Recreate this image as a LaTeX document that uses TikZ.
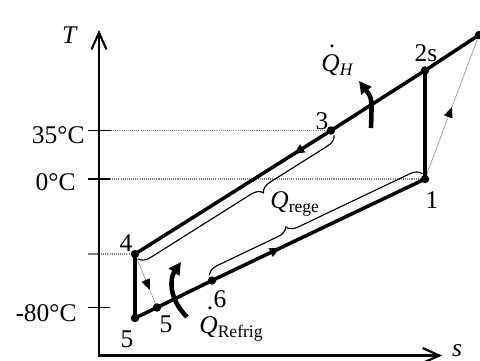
\documentclass[tikz,border=0pt]{standalone}
\usepackage{fontspec}
\setmainfont{Liberation Serif}
\usetikzlibrary{arrows.meta,decorations.pathreplacing,decorations.markings}
\newcommand{\dQ}{\makebox[0pt][l]{\hspace{0.3em}\raisebox{0.92em}{.}}\textit{Q}}
\newcommand{\lowsub}[1]{\raisebox{-0.18em}{\fontsize{10}{11}\selectfont #1}}
\begin{document}
\begin{tikzpicture}[x=0.02cm,y=0.02cm,
  lbl/.style={font=\fontsize{14.5}{16}\selectfont, inner sep=0pt, anchor=base},
  axisln/.style={line width=1.25pt},
  cyc/.style={line width=2pt, line join=round},
  tickln/.style={line width=0.75pt},
  dotln/.style={gray, line width=0.6pt, dash pattern=on 0.6pt off 0.6pt},
  thinln/.style={gray!80, line width=0.4pt},
  bracestyle/.style={decorate, line width=0.65pt},
  qarrow/.style={line width=2.6pt, -{Triangle[length=7pt,width=7pt]}},
  midarrow/.style={postaction={decorate}, decoration={markings, mark=at position #1 with {\arrow[black]{Triangle[length=6pt,width=5pt]}}}}
]
\useasboundingbox (0,0) rectangle (480,360);
% points
\coordinate (O) at (99,4.5);
\coordinate (Ttip) at (99,330);
\coordinate (stip) at (442,4.5);
\coordinate (p4) at (135,106);
\coordinate (p5) at (135,42);
\coordinate (p5b) at (157,52.5);
\coordinate (p6) at (212,79.5);
\coordinate (p1) at (425,181);
\coordinate (p2s) at (425,289.5);
\coordinate (p3) at (331,229.5);
\coordinate (p2) at (479,325);
% ticks
\coordinate (t35a) at (88,229.5); \coordinate (t35b) at (111,229.5);
\coordinate (t0a) at (88,181); \coordinate (t0b) at (110,181);
\coordinate (t4a) at (88,106); \coordinate (t4b) at (99,106);
\coordinate (t80a) at (88,52.5); \coordinate (t80b) at (110,52.5);
\draw[dotln] (t35b) -- (p3);
\draw[dotln] (t0b) -- (p1);
\draw[dotln] (t4b) -- (p4);
\draw[tickln] (t35a) -- (t35b);
\draw[tickln] (t0a) -- (t0b);
\draw[tickln, gray] (t4a) -- (t4b);
\draw[tickln] (t80a) -- (t80b);
% axes
\draw[axisln, line join=miter, {Straight Barb[length=9.5pt,width=8.5pt]}-{Straight Barb[length=9.5pt,width=8.5pt]}] (Ttip) -- (O) -- (stip);
% thin lines
\draw[thinln, midarrow=0.5] (p1) -- (p2);
\draw[thinln, midarrow=0.67] (p4) -- (p5b);
% cycle
\draw[cyc] (p4) -- (p5) -- (p5b) -- (p6);
\draw[cyc, midarrow=0.32] (p6) -- (p1);
\draw[cyc] (p1) -- (p2s);
\draw[cyc, midarrow=0.19] (p3) -- (p4);
\draw[cyc] (p3) -- (p2s) -- (p2);
\foreach \p in {p4,p5,p5b,p6,p1,p2s,p3,p2} \fill (\p) circle (2.4pt);
% braces
\draw[bracestyle, decoration={brace, amplitude=6.2pt, raise=3.3pt, aspect=0.39}] (p3) -- (p4);
\draw[bracestyle, decoration={brace, amplitude=6.2pt, raise=3.3pt, aspect=0.38}] (p6) -- (p1);
% heat arrows
\coordinate (qh1) at (371,232); \coordinate (qh2) at (372,262); \coordinate (qh3) at (359,279);
\draw[qarrow] (qh1) .. controls (qh2) .. (qh3);
\coordinate (qr1) at (187,43); \coordinate (qr2) at (168,62); \coordinate (qr3) at (170,82); \coordinate (qr4) at (181,98);
\draw[qarrow] (qr1) .. controls (qr2) and (qr3) .. (qr4);
% labels
\node[lbl, anchor=base east] (l35) at (85,217) {35°C};
\node[lbl, anchor=base east] (l0) at (76,170) {0°C};
\node[lbl, anchor=base east] (l80) at (77,39) {-80°C};
\node[lbl] (lT) at (70,317) {\textit{T}};
\node[lbl] (ls) at (457,4) {\textit{s}};
\node[lbl] (l2s) at (426,299) {2s};
\node[lbl] (l3) at (322,231) {3};
\node[lbl] (l1) at (432,152) {1};
\node[lbl] (l4) at (126,109) {4};
\node[lbl] (l5) at (127,13) {5};
\node[lbl] (l5b) at (166,28) {5};
\node[lbl] (l6) at (220,53) {6};
\node[lbl, anchor=base west] (lqh) at (321,289) {\dQ\lowsub{\textit{H}}};
\node[lbl, anchor=base west] (lqr) at (199,27) {\dQ\lowsub{Refrig}};
\node[lbl, anchor=base west] (lqg) at (270,152) {\textit{Q}\lowsub{rege}};
\end{tikzpicture}
\end{document}
